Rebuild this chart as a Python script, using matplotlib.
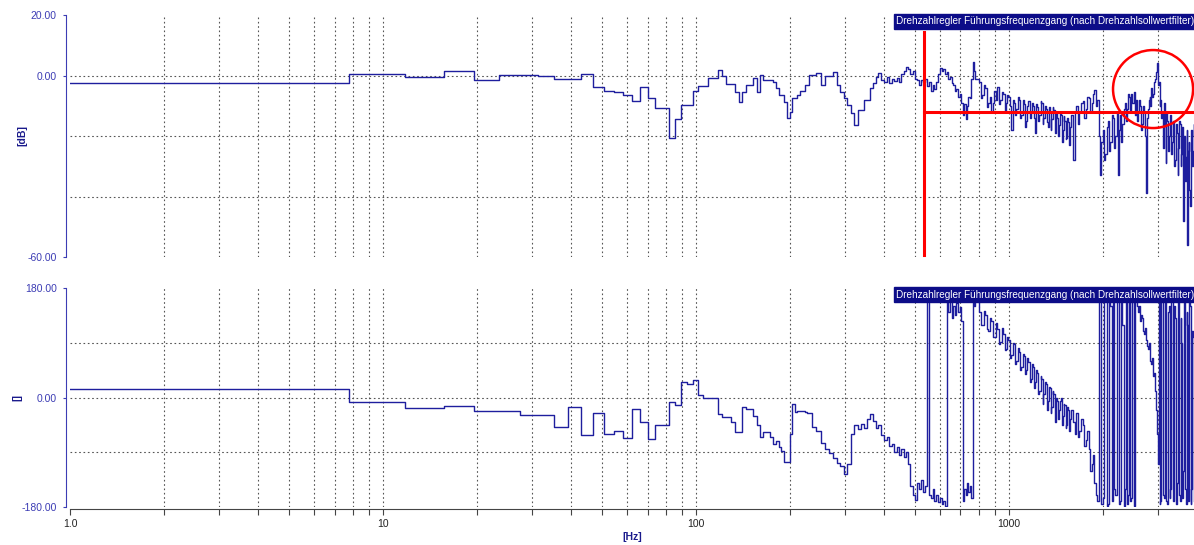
import numpy as np
import matplotlib
matplotlib.use("Agg")
import matplotlib.pyplot as plt
from matplotlib.patches import Ellipse
from matplotlib.ticker import FixedLocator, NullFormatter

plt.rcParams['font.family'] = ['Liberation Sans', 'DejaVu Sans']

# FFT bin spacing of the measurement (8 kHz sampling, 2048 points)
bin_width_hz = 8000 / 2048
f_max = 1000 * bin_width_hz

title = "Drehzahlregler Führungsfrequenzgang (nach Drehzahlsollwertfilter)"

# bin numbers of the plotted points
bins = [
    1, 2, 3, 4, 5, 6, 7, 8, 9, 10, 11, 12, 13, 14, 15, 16, 17, 18, 19, 20,
    21, 22, 23, 24, 25, 26, 27, 28, 29, 30, 31, 32, 33, 34, 35, 36, 37, 38, 39, 40,
    41, 42, 43, 44, 45, 46, 47, 48, 49, 50, 51, 52, 53, 54, 55, 56, 57, 58, 59, 60,
    62, 64, 66, 68, 70, 72, 74, 76, 78, 80, 82, 84, 86, 88, 90, 92, 94, 96, 98, 100,
    102, 104, 106, 108, 110, 112, 114, 116, 118, 120, 122, 124, 126, 128, 130,
    132, 134, 136, 138, 140, 142, 144, 146, 148, 150, 152, 154, 156, 158, 160,
    162, 164, 166, 168, 170, 172, 174, 176, 178, 180, 182, 184, 186, 188, 190,
    192, 194, 196, 198, 200,
    205, 208, 210, 213, 215, 218, 220, 223, 225, 228, 230, 233, 235, 238, 240,
    243, 245, 248, 250, 253, 255, 258, 260, 263, 265, 268, 270, 273, 275, 278,
    280, 283, 285, 288, 290, 293, 295, 298, 300, 303, 305, 308, 310, 313, 315,
    318, 320, 323, 325, 328, 330, 333, 335, 338, 340, 343, 345, 348, 350, 353,
    355, 358, 360, 363, 365, 368, 370, 373, 375, 378, 380, 383, 385, 388, 390,
    393, 395, 398, 400, 403,
    410, 415, 420, 425, 430, 435, 440, 445, 450, 455, 460, 465, 470, 475, 480,
    485, 490, 495, 500, 505, 510, 515, 520, 525, 530, 535, 540, 545, 550, 555,
    560, 565, 570, 575, 580, 585, 590, 595, 600, 605, 610, 615, 620, 625, 630,
    635, 640, 645, 650, 655, 660, 665, 670, 675, 680, 685, 690, 695, 700, 705,
    710, 715, 720, 725, 730, 735, 740, 745, 750, 755, 760, 765, 770, 775, 780,
    785, 790, 795, 800, 805, 810, 815, 820, 825, 830, 835, 840, 845, 850, 855,
    860, 865, 870, 875, 880, 885, 890, 895, 900, 905, 910, 915, 920, 925, 930,
    935, 940, 945, 950, 955, 960, 965, 970, 975, 980, 985, 990, 995, 1000,
]

# magnitude [dB]
mag_db = [
    -2.6, 0.5, -0.4, 1.6, -1.6, 0.2, 0.2, -0.2, -1.1, -1.1,
    0.6, -3.9, -5.0, -5.5, -6.4, -8.3, -3.7, -7.5, -10.8, -10.8,
    -20.6, -14.4, -9.7, -9.7, -5.1, -3.4, -3.4, -0.9, -0.9, 1.8,
    0.0, -2.9, -2.9, -5.3, -8.6, -5.5, -3.1, -3.1, -0.9, -5.3,
    0.2, -1.5, -1.5, -1.5, -2.0, -4.2, -6.4, -6.4, -8.6, -14.0,
    -12.0, -7.5, -7.5, -6.5, -5.0, -5.0, -3.1, -3.1, 0.2, 0.2,
    0.7, -3.0, 0.0, 0.0, 1.3, -3.3, -5.3, -7.5, -9.7, -12.4,
    -16.3, -11.5, -11.3, -8.0, -8.0, -4.2, -2.6, -0.4, 0.8, -1.5,
    -2.0, -0.5, -2.5, -1.0, -1.8, -0.8, -2.3, 0.5, 1.5, 2.9,
    2.0, 0.5, 1.5, -1.0, -1.5, -3.0, -1.5, -2.0, -1.0, -3.5,
    -2.0, -5.0, -3.0, -4.5, -2.0, 0.5, 2.5, 1.5, 2.0, 0.5,
    1.0, -1.0, -0.5, -2.5, -3.0, -5.0, -4.5, -7.0, -6.0, -9.0,
    -13.0, -9.5, -14.5, -10.0, -7.0, -7.5, -1.0, 4.6, 1.5, -1.0,
    -2.0, -7.5, -6.5, -3.0, -4.0, -10.5, -9.0, -7.0, -12.0, -9.0,
    -5.0, -8.0, -3.8, -9.5, -8.0, -5.5, -6.0, -12.0, -9.0, -6.5,
    -7.0, -10.0, -18.0, -8.0, -9.0, -13.0, -11.0, -7.0, -8.0, -14.0,
    -13.0, -8.0, -9.5, -17.0, -15.0, -10.0, -8.5, -14.0, -12.0, -9.0,
    -10.0, -14.0, -19.0, -9.5, -10.5, -15.0, -13.0, -8.5, -9.0, -16.0,
    -14.0, -10.0, -11.0, -15.5, -17.0, -10.5, -12.0, -18.0, -14.5, -10.5,
    -11.5, -16.0, -19.0, -12.5, -14.0, -20.0, -16.5, -12.0, -13.0, -22.0,
    -18.0, -13.5, -15.0, -21.0, -20.5, -14.0, -15.5, -23.0, -17.0, -13.0,
    -28.0, -12.0, -10.0, -16.0, -12.0, -9.0, -8.5, -14.0, -11.0, -7.0,
    -7.5, -12.0, -9.0, -6.0, -4.8, -10.0, -8.0, -20.0, -33.0, -22.0,
    -18.0, -28.0, -26.0, -17.0, -15.0, -25.0, -22.0, -13.0, -14.0, -24.0,
    -20.0, -12.0, -33.0, -18.0, -13.0, -22.0, -16.0, -11.0, -9.0, -15.0,
    -11.0, -6.0, -7.0, -12.0, -6.0, -9.0, -5.3, -13.0, -8.0, -15.0,
    -12.0, -8.0, -10.0, -18.0, -16.0, -10.0, -12.0, -20.0, -39.0, -14.0,
    -11.0, -8.0, -7.0, -10.0, -4.0, -7.0, -6.0, -2.0, -1.0, 1.0,
    4.0, -3.0, -2.0, -10.0, -8.0, -14.0, -12.0, -24.0, -9.0, -16.0,
    -29.0, -12.0, -15.0, -25.0, -20.0, -14.0, -13.0, -26.0, -22.0, -15.0,
    -17.0, -30.0, -28.0, -16.0, -19.0, -33.0, -24.0, -15.0, -16.0, -30.0,
    -26.0, -17.0, -48.0, -22.0, -20.0, -35.0, -27.0, -18.0, -56.0, -25.0,
    -22.0, -38.0, -43.0, -20.0, -18.0, -30.0, -25.0, -16.0, -20.0,
]

# phase [deg], wrapped to +-180
phase_deg = [
    14.3, -8.0, -17.6, -13.7, -22.5, -22.5, -28.5, -28.5, -47.7, -15.9,
    -61.4, -25.8, -59.8, -55.4, -66.9, -19.7, -40.6, -68.0, -44.4, -44.4,
    -7.7, -13.0, 25.2, 21.4, 28.0, 3.3, -0.5, -0.5, -0.5, -26.8,
    -32.4, -32.4, -40.6, -57.0, -57.0, -14.8, -18.7, -18.7, -29.6, -44.4,
    -65.3, -57.0, -57.0, -65.3, -76.2, -70.7, -81.7, -87.2, -106.0, -106.0,
    -60.0, -10.4, -24.2, -21.4, -21.4, -21.4, -24.0, -25.8, -26.0, -48.8,
    -55.6, -75.0, -85.0, -92.0, -100.0, -108.0, -112.0, -125.0, -110.0, -60.0,
    -45.0, -52.0, -43.0, -50.0, -35.0, -27.0, -38.0, -50.0, -45.0, -62.0,
    -70.0, -65.0, -80.0, -76.0, -90.0, -82.0, -95.0, -85.0, -98.0, -90.0,
    -110.0, -145.0, -160.0, -168.0, -140.0, -150.0, -135.0, -155.0, -145.0, 178.0,
    -160.0, -165.0, -150.0, -170.0, -160.0, -172.0, -165.0, -175.0, -170.0, -178.0,
    160.0, 140.0, 158.0, 130.0, 150.0, 135.0, 155.0, 140.0, 148.0, 125.0,
    -170.0, -150.0, -160.0, -140.0, -155.0, -145.0, -165.0, 170.0, 150.0, 160.0,
    140.0, 120.0, 120.0, 142.0, 135.0, 112.0, 110.0, 130.0, 125.0, 100.0,
    100.0, 122.0, 112.0, 88.0, 92.0, 115.0, 105.0, 78.0, 80.0, 100.0,
    95.0, 65.0, 70.0, 90.0, 88.0, 55.0, 60.0, 82.0, 75.0, 45.0,
    50.0, 72.0, 68.0, 38.0, 45.0, 65.0, 58.0, 25.0, 30.0, 55.0,
    50.0, 15.0, 25.0, 45.0, 40.0, 5.0, 10.0, 35.0, 30.0, -10.0,
    5.0, 25.0, 22.0, -20.0, -5.0, 18.0, 15.0, -25.0, -15.0, 10.0,
    5.0, -30.0, -40.0, 0.0, -5.0, -35.0, -20.0, -5.0, 0.0, -45.0,
    -30.0, -10.0, -12.0, -50.0, -45.0, -15.0, -20.0, -55.0, -35.0, -20.0,
    -40.0, -60.0, -25.0, -65.0, -55.0, -35.0, -45.0, -80.0, -70.0, -55.0,
    -85.0, -120.0, -110.0, -95.0, -140.0, -160.0, -170.0, 178.0, 170.0, -175.0,
    -165.0, 175.0, 160.0, -178.0, -175.0, 170.0, 150.0, -170.0, 175.0, -150.0,
    -160.0, 178.0, 165.0, -175.0, -170.0, 160.0, 120.0, -178.0, -150.0, 175.0,
    -175.0, -160.0, 170.0, -170.0, -165.0, 175.0, -178.0, 178.0, 165.0, 150.0,
    140.0, 150.0, 125.0, 135.0, 130.0, 110.0, 105.0, 115.0, 95.0, 85.0,
    80.0, 90.0, 70.0, 60.0, 55.0, 65.0, 35.0, 40.0, 10.0, -20.0,
    -60.0, -110.0, 175.0, -175.0, -170.0, 165.0, 170.0, -160.0, -165.0, 170.0,
    160.0, -170.0, -175.0, 140.0, 150.0, -165.0, -150.0, 175.0, 175.0, -170.0,
    -160.0, 150.0, 130.0, -175.0, -140.0, 170.0, 165.0, -160.0, -170.0, 130.0,
    90.0, -165.0, -120.0, 175.0, 170.0, -150.0, -175.0, 140.0, 120.0, -170.0,
    -160.0, 160.0, 150.0, -175.0, -150.0, 110.0, 100.0, -165.0, -170.0,
]

# cursor lines and marked resonance in the magnitude plot
cursor_hz = 536.0
cursor_db = -12.0

line_color = '#1e1e9e'
axis_blue = '#3c3cb4'
label_blue = '#1a1a8c'
grid_color = '#555555'
grid_style = (0, (1.5, 2.4))

freq = np.concatenate([[1.0], np.array(bins) * bin_width_hz])
mag = np.concatenate([[mag_db[0]], mag_db])
phase = np.concatenate([[phase_deg[0]], phase_deg])

W, H = 1194, 545
fig = plt.figure(figsize=(W / 100, H / 100), dpi=100)
ax_mag = fig.add_axes([70 / W, 1 - 257 / H, 1124.2 / W, 242 / H])
ax_ph = fig.add_axes([70 / W, 1 - 507 / H, 1124.2 / W, 219 / H])

decade_lines = [m * d for d in (1, 10, 100, 1000) for m in range(1, 10)
                if 1 < m * d < f_max]


def style_axes(ax, yticks, ylim, grid_y, ylabel, label_x):
    ax.set_xscale('log')
    ax.set_xlim(1.0, f_max)
    ax.set_ylim(*ylim)
    for side in ('top', 'right', 'bottom'):
        ax.spines[side].set_visible(False)
    ax.spines['left'].set_color(axis_blue)
    ax.spines['left'].set_position(('outward', 3))
    ax.set_yticks(yticks)
    ax.set_yticklabels(['%.2f' % v for v in yticks])
    ax.tick_params(axis='y', colors=axis_blue, labelsize=7.5, length=2.5,
                   width=0.8, pad=4)
    for f in decade_lines:
        ax.axvline(f, color=grid_color, lw=0.8, ls=grid_style, zorder=1)
    for v in grid_y:
        ax.axhline(v, color=grid_color, lw=0.8, ls=grid_style, zorder=1)
    fig.text(label_x / W, ax.get_position().y0 + ax.get_position().height / 2,
             ylabel, rotation=90, color=label_blue, fontsize=7.5,
             fontweight='bold', ha='center', va='center')


style_axes(ax_mag, [20, 0, -60], (-60, 20), [0, -20, -40], '[dB]', 22)
style_axes(ax_ph, [180, 0, -180], (-180, 180), [90, 0, -90], '[]', 17)

ax_mag.step(freq, mag, where='post', color=line_color, lw=1.0, zorder=3)
ax_ph.step(freq, phase, where='post', color=line_color, lw=1.0, zorder=3)

# x axis only below the phase plot
ax_mag.tick_params(axis='x', which='both', bottom=False, labelbottom=False)
ax_ph.spines['bottom'].set_visible(True)
ax_ph.spines['bottom'].set_color('#444444')
ax_ph.spines['bottom'].set_position(('outward', 1.5))
ax_ph.xaxis.set_major_locator(FixedLocator([1, 10, 100, 1000]))
ax_ph.set_xticklabels(['1.0', '10', '100', '1000'])
ax_ph.xaxis.set_minor_locator(FixedLocator(decade_lines))
ax_ph.xaxis.set_minor_formatter(NullFormatter())
ax_ph.tick_params(axis='x', which='both', colors='#444444', length=4,
                  width=0.8, labelsize=7.5, labelcolor='#222222', pad=3)
fig.text(632 / W, 1 - 537 / H, '[Hz]', color=label_blue, fontsize=7.5,
         fontweight='bold', ha='center', va='center')

# cursor and marker
ax_mag.plot([cursor_hz, cursor_hz], [14.4, -59.3], color='red', lw=2.2,
            zorder=5, clip_on=False)
ax_mag.plot([cursor_hz, f_max], [cursor_db, cursor_db], color='red', lw=2.2,
            zorder=5, clip_on=False)
ax_mag.add_patch(Ellipse((0.9634, 0.694), 0.0712, 0.3223,
                         transform=ax_mag.transAxes, fill=False,
                         ec='red', lw=1.8, zorder=6))

# title boxes in the upper right of each plot
for y_px in (21.5, 294.5):
    fig.text(896 / W, 1 - y_px / H, title, color='white', fontsize=7.2,
             ha='left', va='center',
             bbox=dict(boxstyle='square,pad=0.25', fc='#0c0c88', ec='#0c0c88'))

fig.savefig('out.png', dpi=100)
